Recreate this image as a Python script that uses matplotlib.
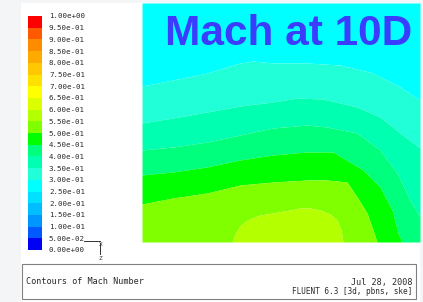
import numpy as np
import matplotlib
matplotlib.use("Agg")
import matplotlib.pyplot as plt
from matplotlib.patches import Rectangle
from matplotlib.lines import Line2D

W, H = 423, 302

# ---- data: colorbar levels ----
levels = np.round(np.arange(0, 1.0001, 0.05), 2)
band_colors = ["#0000f5", "#005aff", "#0096ff", "#00beff", "#00e1ff",
               "#00ffff", "#20ffd8", "#00ffb0", "#00ff7c", "#00ff00",
               "#80ff00", "#b4ff00", "#dcff00", "#ffff00", "#ffe100",
               "#ffc800", "#ffaa00", "#ff8c00", "#ff5a00", "#ff0000"]

# ---- data: contour iso-lines of Mach number (x across, z up from bottom) ----
x_extent = 278
z_extent = 239
iso_030_x = [0, 31, 65, 98, 111, 131, 165, 198, 231, 258, 278]
iso_030_z = [156, 162, 169, 179, 181, 179, 179, 177, 169, 155, 142]
iso_035_x = [0, 31, 65, 98, 131, 155, 181, 215, 238, 258, 278]
iso_035_z = [119, 124, 130, 136, 140, 144, 143, 135, 125, 109, 94]
iso_040_x = [0, 31, 65, 98, 131, 165, 185, 215, 238, 255, 268, 278]
iso_040_z = [92, 95, 100, 107, 114, 117, 115, 109, 92, 69, 42, 25]
iso_045_x = [0, 31, 65, 98, 131, 165, 191, 201, 221, 238, 250, 256, 260]
iso_045_z = [67, 70, 75, 82, 87, 90, 90, 84, 72, 55, 32, 9, 0]
iso_050_x = [0, 31, 65, 98, 131, 165, 185, 205, 215, 225, 231, 235]
iso_050_z = [38, 44, 49, 57, 60, 62, 62, 60, 45, 29, 12, 0]
iso_055_x = [90, 94, 98, 105, 118, 131, 148, 158, 168, 178, 188, 195, 199, 201]
iso_055_z = [0, 10, 16, 22, 27, 29, 32, 34, 34, 32, 28, 22, 12, 0]
iso_levels = [0.30, 0.35, 0.40, 0.45, 0.50, 0.55]

title = "Mach at 10D"
caption_left = "Contours of Mach Number"
caption_date = "Jul 28, 2008"
caption_soft = "FLUENT 6.3 [3d, pbns, ske]"

fig = plt.figure(figsize=(W / 100, H / 100), dpi=100)
fig.patch.set_facecolor("#f3f5f7")

def fx(px):
    return px / W

def fy(py):
    return 1 - py / H

# white panel
fig.patches.append(Rectangle((fx(21), fy(302)), fx(420) - fx(21), fy(3) - fy(302),
                             transform=fig.transFigure, facecolor="white",
                             edgecolor="none", zorder=-5))

# ---- contour plot ----
ax = fig.add_axes([fx(142), fy(242), (420 - 142) / W, (242 - 3) / H])
ax.set_zorder(3)
xs = np.linspace(0, x_extent, 1500)
iso_data = [(iso_030_x, iso_030_z), (iso_035_x, iso_035_z), (iso_040_x, iso_040_z),
            (iso_045_x, iso_045_z), (iso_050_x, iso_050_z), (iso_055_x, iso_055_z)]
curves = [np.interp(xs, np.array(x), np.array(z), left=0, right=0) for x, z in iso_data]

def band_color(lo):
    return band_colors[int(round(lo / 0.05))]

# region above first iso-line
ax.fill_between(xs, curves[0], z_extent, color=band_color(iso_levels[0] - 0.05), lw=0)
for i in range(len(curves) - 1):
    ax.fill_between(xs, curves[i + 1], curves[i], color=band_color(iso_levels[i]), lw=0)
ax.fill_between(xs, 0, curves[-1], color=band_color(iso_levels[-1]), lw=0)
ax.set_xlim(0, x_extent)
ax.set_ylim(0, z_extent)
ax.axis("off")

# ---- colorbar ----
cax = fig.add_axes([fx(28), fy(250), 14 / W, (250 - 16) / H])
cax.set_zorder(3)
cax.patch.set_alpha(0)
cax.bar(np.zeros(len(levels) - 1), np.diff(levels), bottom=levels[:-1], width=1,
        color=band_colors, align="center", lw=0)
cax.set_xlim(-0.5, 0.5)
cax.set_ylim(0, 1)
for s in cax.spines.values():
    s.set_visible(False)
cax.set_xticks([])
cax.yaxis.tick_right()
cax.set_yticks(levels)
cax.set_yticklabels([f"{v:.2e}" for v in levels], family="DejaVu Sans Mono",
                    fontsize=5.4, color="#2a2a2a")
cax.tick_params(axis="y", length=0, pad=5)

# ---- axis triad ----
tri = dict(color="#333333", lw=0.7, transform=fig.transFigure, zorder=4)
fig.add_artist(Line2D([fx(84), fx(100)], [fy(241), fy(241)], **tri))
fig.add_artist(Line2D([fx(100), fx(100)], [fy(243), fy(254)], **tri))
fig.text(fx(99), fy(244), "X", fontsize=4.5, family="DejaVu Sans Mono", color="#333333",
         va="center", zorder=4)
fig.text(fx(98), fy(258), "Z", fontsize=4.5, family="DejaVu Sans Mono", color="#333333",
         va="center", zorder=4)

# ---- title ----
fig.text(fx(165), fy(45), title, fontsize=30.5, fontweight="bold", color="#3c3cff",
         family="Liberation Sans", va="baseline", zorder=5)

# ---- info box ----
fig.patches.append(Rectangle((fx(22), fy(299)), fx(416) - fx(22), fy(264) - fy(299),
                             transform=fig.transFigure, facecolor="white",
                             edgecolor="#808080", lw=0.8, zorder=1))
fig.text(fx(26), fy(282), caption_left, fontsize=6.1, family="DejaVu Sans Mono",
         color="#2a2a2a", va="center", zorder=2)
fig.text(fx(412), fy(282), caption_date, fontsize=6.1, family="DejaVu Sans Mono",
         color="#2a2a2a", va="center", ha="right", zorder=2)
fig.text(fx(412), fy(292), caption_soft, fontsize=5.6, family="DejaVu Sans Mono",
         color="#2a2a2a", va="center", ha="right", zorder=2)

fig.savefig("out.png", dpi=100, facecolor=fig.get_facecolor())
